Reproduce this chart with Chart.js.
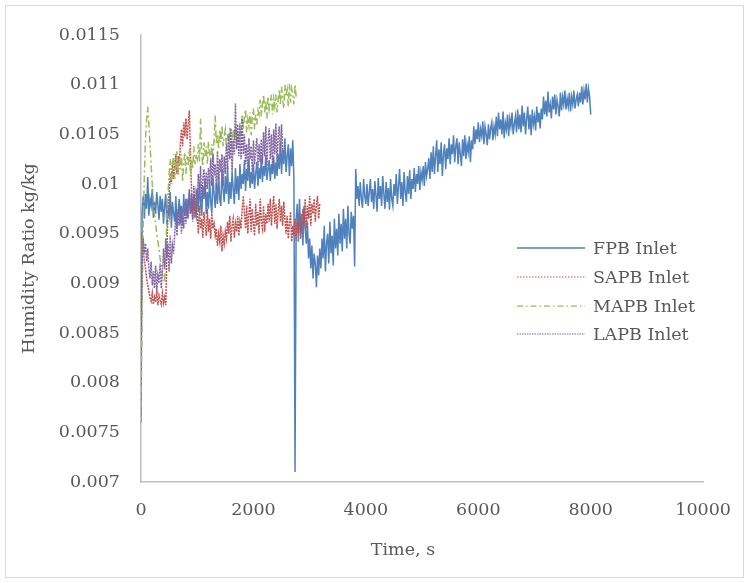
<!DOCTYPE html>
<html>
<head>
<meta charset="utf-8">
<script src="https://cdn.jsdelivr.net/npm/chart.js@4/dist/chart.umd.min.js"></script>
<style>
  html, body { margin: 0; padding: 0; background: #ffffff; }
  canvas { display: block; }
</style>
</head>
<body>
<canvas id="chart" width="749" height="583"></canvas>
<script>
// Logger sampling interval, seconds
const sampleStep = 20;

// Inlet humidity ratio, kg/kg, one reading per sample (20 readings per row)
const fpbInlet = [
  0.0076, 0.00972, 0.00988, 0.00965, 0.00990, 0.00975, 0.01007, 0.00968, 0.00985, 0.00978, 0.00995, 0.00966, 0.00982, 0.00970, 0.00992, 0.00980, 0.00964, 0.00988, 0.00972, 0.00985,
  0.00960, 0.00978, 0.00990, 0.00958, 0.00975, 0.00968, 0.00992, 0.00956, 0.00982, 0.00970, 0.00962, 0.00988, 0.00955, 0.00972, 0.00985, 0.00960, 0.00978, 0.00958, 0.00990, 0.00968,
  0.00985, 0.00966, 0.00978, 0.00992, 0.00970, 0.00984, 0.00965, 0.00990, 0.00975, 0.00968, 0.00995, 0.00972, 0.01002, 0.00980, 0.00968, 0.00998, 0.00985, 0.01006, 0.00970, 0.00992,
  0.00975, 0.01004, 0.00982, 0.00970, 0.01008, 0.00990, 0.00976, 0.01000, 0.00980, 0.01012, 0.00985, 0.00978, 0.01015, 0.00995, 0.00982, 0.01008, 0.00990, 0.01018, 0.00980, 0.01002,
  0.00985, 0.01012, 0.00995, 0.00980, 0.01016, 0.00990, 0.01008, 0.00984, 0.01020, 0.00995, 0.01010, 0.01000, 0.01024, 0.00993, 0.01015, 0.01003, 0.01026, 0.00996, 0.01012, 0.01000,
  0.01020, 0.00995, 0.01010, 0.01022, 0.00998, 0.01016, 0.01005, 0.01027, 0.01002, 0.01018, 0.01008, 0.01029, 0.01004, 0.01015, 0.01024, 0.01003, 0.01020, 0.01010, 0.01028, 0.01005,
  0.01022, 0.01008, 0.01030, 0.01015, 0.01042, 0.01010, 0.01035, 0.01020, 0.01046, 0.01012, 0.01028, 0.01040, 0.01008, 0.01036, 0.01018, 0.01044, 0.01005, 0.0071, 0.00965, 0.00980,
  0.00942, 0.00985, 0.00950, 0.00970, 0.00938, 0.00978, 0.00955, 0.00940, 0.00962, 0.00925, 0.00945, 0.00915, 0.00938, 0.00905, 0.00930, 0.00920, 0.00896, 0.00928, 0.00908, 0.00935,
  0.00915, 0.00945, 0.00925, 0.00958, 0.00912, 0.00940, 0.00950, 0.00920, 0.00962, 0.00930, 0.00948, 0.00918, 0.00965, 0.00935, 0.00955, 0.00928, 0.00970, 0.00940, 0.00960, 0.00932,
  0.00975, 0.00945, 0.00965, 0.00935, 0.00978, 0.00950, 0.00940, 0.00972, 0.00955, 0.00968, 0.00917, 0.01015, 0.00985, 0.00998, 0.00978, 0.01002, 0.00985, 0.00976, 0.01005, 0.00988,
  0.00980, 0.01000, 0.00978, 0.00992, 0.01005, 0.00982, 0.00995, 0.00975, 0.01003, 0.00988, 0.00972, 0.01006, 0.00985, 0.00998, 0.00978, 0.01008, 0.00990, 0.00975, 0.01002, 0.00982,
  0.00996, 0.00974, 0.01005, 0.00985, 0.00978, 0.01000, 0.00988, 0.01010, 0.00980, 0.00998, 0.01015, 0.00985, 0.01002, 0.00978, 0.01012, 0.00992, 0.00982, 0.01008, 0.00990, 0.01014,
  0.00985, 0.01005, 0.00995, 0.01016, 0.00992, 0.01010, 0.01000, 0.01018, 0.00994, 0.01012, 0.01004, 0.01018, 0.00998, 0.01022, 0.01008, 0.01015, 0.01026, 0.01005, 0.01032, 0.01012,
  0.01038, 0.01010, 0.01028, 0.01044, 0.01012, 0.01035, 0.01020, 0.01042, 0.01008, 0.01030, 0.01040, 0.01015, 0.01036, 0.01025, 0.01046, 0.01020, 0.01040, 0.01030, 0.01049, 0.01022,
  0.01038, 0.01046, 0.01020, 0.01042, 0.01030, 0.01018, 0.01045, 0.01028, 0.01049, 0.01025, 0.01040, 0.01032, 0.01048, 0.01022, 0.01044, 0.01035, 0.01058, 0.01040, 0.01055, 0.01045,
  0.01062, 0.01042, 0.01055, 0.01048, 0.01063, 0.01040, 0.01058, 0.01050, 0.01039, 0.01060, 0.01045, 0.01056, 0.01062, 0.01044, 0.01058, 0.01050, 0.01068, 0.01048, 0.01072, 0.01055,
  0.01065, 0.01050, 0.01073, 0.01046, 0.01062, 0.01055, 0.01070, 0.01048, 0.01066, 0.01058, 0.01072, 0.01050, 0.01060, 0.01068, 0.01052, 0.01075, 0.01055, 0.01070, 0.01052, 0.01079,
  0.01058, 0.01072, 0.01050, 0.01066, 0.01078, 0.01055, 0.01070, 0.01049, 0.01075, 0.01060, 0.01068, 0.01054, 0.01078, 0.01062, 0.01072, 0.01056, 0.01076, 0.01065, 0.01088, 0.01070,
  0.01084, 0.01068, 0.01093, 0.01072, 0.01080, 0.01066, 0.01088, 0.01075, 0.01090, 0.01070, 0.01085, 0.01078, 0.01068, 0.01092, 0.01074, 0.01088, 0.01080, 0.01094, 0.01075, 0.01086,
  0.01078, 0.01092, 0.01073, 0.01088, 0.01080, 0.01094, 0.01076, 0.01085, 0.01090, 0.01078, 0.01092, 0.01082, 0.01098, 0.01080, 0.01094, 0.01085, 0.01101, 0.01082, 0.01096, 0.01088,
  0.01070
];

const sapbInlet = [
  0.00952, 0.00945, 0.00935, 0.00922, 0.00915, 0.00905, 0.00898, 0.00892, 0.00886,
  0.00882, 0.00890, 0.00879, 0.00886, 0.00881, 0.00892, 0.00878, 0.00888, 0.00883, 0.00879, 0.00890, 0.00880, 0.00886, 0.00878,
  0.00930, 0.00975,
  0.00990, 0.01010, 0.01000, 0.01022, 0.01005, 0.01018, 0.01030, 0.01010, 0.01028, 0.01018,
  0.01040, 0.01055, 0.01038, 0.01062, 0.01048, 0.01066, 0.01045, 0.01060,
  0.01074,
  0.01030, 0.00992, 0.00975, 0.00988, 0.00966, 0.00985,
  0.00970, 0.00950, 0.00978, 0.00955, 0.00965, 0.00946, 0.00972, 0.00958, 0.00948, 0.00975, 0.00952, 0.00965, 0.00945, 0.00970, 0.00955, 0.00960, 0.00948,
  0.00955, 0.00938, 0.00950, 0.00942, 0.00958, 0.00932, 0.00948, 0.00940, 0.00952,
  0.00945, 0.00962, 0.00950, 0.00968, 0.00942, 0.00958, 0.00965, 0.00946, 0.00960, 0.00952, 0.00968, 0.00948, 0.00962, 0.00955,
  0.00975, 0.00988, 0.00970,
  0.00955, 0.00978, 0.00950, 0.00970, 0.00985, 0.00952, 0.00975, 0.00960, 0.00948, 0.00980, 0.00958, 0.00972, 0.00950, 0.00985, 0.00962, 0.00955, 0.00978, 0.00952, 0.00970, 0.00960, 0.00980,
  0.00962, 0.00985, 0.00958, 0.00975, 0.00988, 0.00960, 0.00980, 0.00955, 0.00972, 0.00985, 0.00962, 0.00978, 0.00958, 0.00982, 0.00965,
  0.00950, 0.00968, 0.00945, 0.00960, 0.00972, 0.00942, 0.00958, 0.00948, 0.00965, 0.00943, 0.00962, 0.00950, 0.00970, 0.00945,
  0.00958, 0.00975, 0.00960, 0.00985, 0.00955, 0.00978, 0.00965, 0.00988, 0.00958, 0.00980, 0.00970, 0.00985, 0.00962, 0.00978, 0.00988, 0.00965, 0.00980
];

const mapbInlet = [
  0.0076,
  0.00880, 0.00960, 0.01010, 0.01045, 0.01065, 0.01078, 0.01060,
  0.01040, 0.01020, 0.01000, 0.00985, 0.00970, 0.00960, 0.00950, 0.00942, 0.00935, 0.00925, 0.00918, 0.00910, 0.00905, 0.00901,
  0.00930, 0.00965, 0.00990,
  0.01010, 0.01025, 0.01000, 0.01018, 0.01030, 0.01005, 0.01020, 0.01033, 0.01008, 0.01025, 0.01015, 0.01030, 0.01002, 0.01022, 0.01032, 0.01010, 0.01028, 0.01018, 0.01035, 0.01008, 0.01025, 0.01015, 0.01038, 0.01020, 0.01030,
  0.01025, 0.01040, 0.01022, 0.01066, 0.01030, 0.01018, 0.01042, 0.01028, 0.01038, 0.01020, 0.01043, 0.01030, 0.01025, 0.01040, 0.01022, 0.01045, 0.01069,
  0.01040, 0.01050, 0.01035, 0.01055, 0.01042, 0.01059, 0.01038, 0.01048, 0.01055, 0.01033, 0.01050, 0.01040, 0.01058, 0.01045, 0.01036, 0.01055, 0.01048, 0.01059, 0.01040, 0.01052, 0.01045,
  0.01062, 0.01050, 0.01070, 0.01055, 0.01068, 0.01075, 0.01052, 0.01065, 0.01058, 0.01072, 0.01049, 0.01068, 0.01076, 0.01055, 0.01070, 0.01060, 0.01074,
  0.01070, 0.01085, 0.01068, 0.01080, 0.01090, 0.01072, 0.01084, 0.01066, 0.01088, 0.01075, 0.01082, 0.01090, 0.01070, 0.01086, 0.01078, 0.01090, 0.01072, 0.01085,
  0.01095, 0.01080, 0.01098, 0.01085, 0.01076, 0.01100, 0.01088, 0.01095, 0.01078, 0.01101, 0.01082, 0.01096, 0.01090, 0.01080, 0.01100, 0.01088
];

const lapbInlet = [
  0.0085,
  0.00920, 0.00945, 0.00930, 0.00940, 0.00922, 0.00935,
  0.00915, 0.00905, 0.00922, 0.00898, 0.00912, 0.00895, 0.00918, 0.00891, 0.00908, 0.00900, 0.00920, 0.00895, 0.00910,
  0.00935, 0.00915, 0.00945, 0.00925, 0.00940, 0.00912, 0.00948, 0.00920, 0.00938, 0.00930,
  0.00950, 0.00970, 0.00948, 0.00975, 0.00958, 0.00978, 0.00950, 0.00968, 0.00955, 0.00975, 0.00960,
  0.00985, 0.00965, 0.00995, 0.00970, 0.00990, 0.00962, 0.00998, 0.00975, 0.00992,
  0.00985, 0.01010, 0.00990, 0.01018, 0.00982, 0.01005, 0.01015, 0.00988, 0.01012, 0.00995, 0.01016,
  0.01000, 0.01025, 0.00998, 0.01030, 0.01008, 0.01020, 0.00995, 0.01033, 0.01005, 0.01025, 0.01012, 0.01030, 0.00998, 0.01028, 0.01010,
  0.01040, 0.01015, 0.01050, 0.01025, 0.01056, 0.01012, 0.01045, 0.01030, 0.01081, 0.01035, 0.01060, 0.01028,
  0.01058, 0.01025, 0.01066, 0.01030, 0.01050, 0.01020,
  0.01040, 0.01015, 0.01046, 0.01025, 0.01038, 0.01012, 0.01044, 0.01020, 0.01035, 0.01046, 0.01015, 0.01040, 0.01022, 0.01045,
  0.01020, 0.01052, 0.01028, 0.01058, 0.01018, 0.01045, 0.01056, 0.01025, 0.01050, 0.01016, 0.01055, 0.01030, 0.01061, 0.01022, 0.01048, 0.01058, 0.01028, 0.01060, 0.01035
];

const seriesNames = ['FPB Inlet', 'SAPB Inlet', 'MAPB Inlet', 'LAPB Inlet'];
const xTicks = [0, 2000, 4000, 6000, 8000, 10000];
const yTicks = [0.007, 0.0075, 0.008, 0.0085, 0.009, 0.0095, 0.01, 0.0105, 0.011, 0.0115];
const xTitle = 'Time, s';
const yTitle = 'Humidity Ratio kg/kg';

const textColor = '#595959';
const fontFamily = "'DejaVu Serif', 'Liberation Serif', serif";
const fontSize = 17.5;

function toPoints(values) {
  return values.map((v, i) => ({ x: i * sampleStep, y: v }));
}

// Line styles for the plotted traces; the legend keys use thinner strokes
const seriesStyles = [
  { color: '#4F81BD', width: 1.5, dash: [], keyWidth: 1.5, keyDash: [] },
  { color: '#C0504D', width: 1.5, dash: [2, 1], keyWidth: 1, keyDash: [1.5, 1.5] },
  { color: '#9BBB59', width: 1.5, dash: [7, 3, 2, 3], keyWidth: 1.25, keyDash: [6, 3, 1.5, 3] },
  { color: '#8064A2', width: 1.5, dash: [2, 1], keyWidth: 1, keyDash: [1.5, 1] }
];
const seriesValues = [fpbInlet, sapbInlet, mapbInlet, lapbInlet];

const datasets = seriesValues.map((vals, k) => ({
  label: seriesNames[k],
  data: toPoints(vals),
  borderColor: seriesStyles[k].color,
  borderWidth: seriesStyles[k].width,
  borderDash: seriesStyles[k].dash,
  pointRadius: 0,
  tension: 0,
  fill: false,
  order: seriesValues.length - k
}));

// Frame, in-plot legend and the x-axis caption
const decorations = {
  id: 'decorations',
  afterDraw(chart) {
    const ctx = chart.ctx;
    ctx.save();
    ctx.strokeStyle = '#d9d9d9';
    ctx.lineWidth = 1;
    ctx.setLineDash([]);
    ctx.strokeRect(5.5, 5.5, 738, 572);

    const rowY = [248, 277, 306, 334];
    ctx.font = fontSize + 'px ' + fontFamily;
    ctx.textBaseline = 'middle';
    ctx.textAlign = 'left';
    datasets.forEach((ds, k) => {
      const st = seriesStyles[k];
      ctx.beginPath();
      ctx.strokeStyle = ds.borderColor;
      ctx.lineWidth = st.keyWidth;
      ctx.setLineDash(st.keyDash);
      ctx.moveTo(517, rowY[k]);
      ctx.lineTo(585, rowY[k]);
      ctx.stroke();
      ctx.setLineDash([]);
      ctx.fillStyle = textColor;
      ctx.fillText(ds.label, 593, rowY[k] + 1);
    });

    ctx.textAlign = 'center';
    ctx.fillStyle = textColor;
    ctx.fillText(xTitle, 403, 550);
    ctx.restore();
  }
};

Chart.defaults.font.family = fontFamily;
Chart.defaults.font.size = fontSize;
Chart.defaults.color = textColor;

new Chart(document.getElementById('chart'), {
  type: 'line',
  data: { datasets },
  plugins: [decorations],
  options: {
    responsive: false,
    animation: false,
    layout: { padding: { top: 35, right: 39, left: 0, bottom: 0 } },
    plugins: {
      legend: { display: false },
      tooltip: { enabled: false },
      title: { display: false }
    },
    scales: {
      x: {
        type: 'linear',
        min: 0,
        max: 10000,
        afterBuildTicks: (scale) => { scale.ticks = xTicks.map(v => ({ value: v })); },
        afterFit: (scale) => { scale.height = 101; },
        ticks: {
          color: textColor,
          padding: 18,
          maxRotation: 0,
          callback: (v) => String(v)
        },
        grid: { display: false, drawTicks: false },
        border: { display: true, color: '#bfbfbf', width: 1.5 }
      },
      y: {
        type: 'linear',
        min: 0.007,
        max: 0.0115,
        afterBuildTicks: (scale) => { scale.ticks = yTicks.map(v => ({ value: v })); },
        afterFit: (scale) => { scale.width = 141; },
        ticks: {
          color: textColor,
          padding: 21,
          callback: (v) => String(+v.toFixed(4))
        },
        grid: { display: false, drawTicks: false },
        border: { display: true, color: '#bfbfbf', width: 1.5 },
        title: {
          display: true,
          text: yTitle,
          color: textColor,
          padding: { top: 19, bottom: 0 }
        }
      }
    }
  }
});
</script>
</body>
</html>
